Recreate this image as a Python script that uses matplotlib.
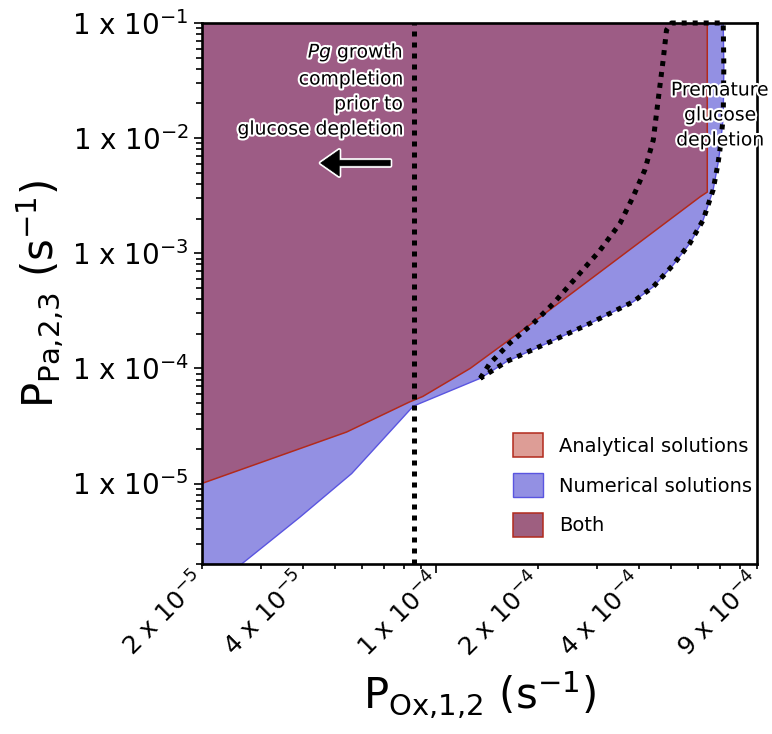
import matplotlib
matplotlib.use('Agg')
import matplotlib.pyplot as plt
import matplotlib.patheffects as pe
from matplotlib.patches import Patch, FancyArrowPatch
from matplotlib.ticker import FixedLocator, NullFormatter

plt.rcParams.update({
    'font.family': 'DejaVu Sans',
    'mathtext.fontset': 'dejavusans',
})

# analytical solution boundary (region above it)
ana_x = [2.0e-5, 5.4e-5, 8.3e-5, 9.1e-5, 1.26e-4, 1.9e-4, 6.1e-4, 6.4e-4, 6.4e-4]
ana_y = [1.0e-5, 2.8e-5, 5.1e-5, 5.7e-5, 1.0e-4, 2.4e-4, 3.1e-3, 3.4e-3, 1e-1]

# numerical solution boundary (region above it)
num_x = [2.0e-5, 2.63e-5, 3.92e-5, 5.59e-5, 8.53e-5, 1.35e-4, 1.62e-4, 2.13e-4,
         2.80e-4, 3.85e-4, 4.42e-4, 5.06e-4, 5.68e-4, 6.22e-4, 6.66e-4, 6.89e-4,
         6.98e-4, 7.14e-4, 7.17e-4, 7.14e-4]
num_y = [2e-6, 2e-6, 5.1e-6, 1.22e-5, 4.7e-5, 8.2e-5, 1.15e-4, 1.65e-4,
         2.38e-4, 3.79e-4, 5.12e-4, 7.89e-4, 1.22e-3, 1.94e-3, 3.54e-3, 6.04e-3,
         7.88e-3, 1.53e-2, 4.17e-2, 1e-1]

# left edge of the premature glucose depletion zone
dep_x = [1.35e-4, 1.44e-4, 1.65e-4, 1.94e-4, 2.23e-4, 2.61e-4, 3.06e-4, 3.52e-4,
         3.85e-4, 4.17e-4, 4.42e-4, 4.57e-4, 4.73e-4, 4.84e-4, 5.01e-4]
dep_y = [8.2e-5, 1.10e-4, 1.65e-4, 2.46e-4, 3.67e-4, 6.2e-4, 1.05e-3, 1.82e-3,
         3.10e-3, 5.28e-3, 9.63e-3, 2.14e-2, 4.77e-2, 8.69e-2, 1e-1]

growth_x = 8.6e-5

x_ticks = [2e-5, 4e-5, 1e-4, 2e-4, 4e-4, 9e-4]
x_ticklabels = ['2 x 10$^{-5}$', '4 x 10$^{-5}$', '1 x 10$^{-4}$',
                '2 x 10$^{-4}$', '4 x 10$^{-4}$', '9 x 10$^{-4}$']
y_ticks = [1e-5, 1e-4, 1e-3, 1e-2, 1e-1]
y_ticklabels = ['1 x 10$^{-5}$', '1 x 10$^{-4}$', '1 x 10$^{-3}$',
                '1 x 10$^{-2}$', '1 x 10$^{-1}$']

XMIN, XMAX = 2e-5, 9e-4
YMIN, YMAX = 2e-6, 1e-1

BLUE_FACE = '#9390e3'
BLUE_EDGE = '#5a55e0'
RED_FACE = (0.68, 0.07, 0.0, 0.41)
RED_EDGE = '#b22a1c'

fig = plt.figure(figsize=(7.72, 7.34), dpi=100)
ax = fig.add_axes([201.7 / 772, 1 - 564 / 734, 555.3 / 772, 541 / 734])
ax.set_xscale('log')
ax.set_yscale('log')

# numerical region: boundary then up to the top-left corner
bx = num_x + [XMIN, XMIN]
by = num_y + [YMAX, YMIN]
ax.fill(bx, by, facecolor=BLUE_FACE, edgecolor=BLUE_EDGE, lw=1.0, zorder=1)

# analytical region drawn translucent on top, so overlap reads as "both"
rx = ana_x + [XMIN]
ry = ana_y + [YMAX]
ax.fill(rx, ry, facecolor=RED_FACE, edgecolor=RED_EDGE, lw=1.1, zorder=2)

dot = dict(color='black', lw=3.6, linestyle=(0, (1, 1.2)),
           dash_capstyle='butt', clip_on=False, zorder=4)
ax.plot([growth_x, growth_x], [YMIN, YMAX], **dot)

i0 = num_x.index(dep_x[0])
loop_x = dep_x + num_x[i0:][::-1]
loop_y = dep_y + num_y[i0:][::-1]
ax.plot(loop_x, loop_y, **dot)

ax.set_xlim(XMIN, XMAX)
ax.set_ylim(YMIN, YMAX)

# ticks
ax.xaxis.set_major_locator(FixedLocator(x_ticks))
ax.xaxis.set_minor_locator(FixedLocator(
    [3e-5, 5e-5, 6e-5, 7e-5, 8e-5, 9e-5, 3e-4, 5e-4, 6e-4, 7e-4, 8e-4]))
ax.xaxis.set_minor_formatter(NullFormatter())
ax.set_xticklabels(x_ticklabels, rotation=45, ha='right', va='center',
                   rotation_mode='anchor', fontsize=18)

ax.yaxis.set_major_locator(FixedLocator(y_ticks))
ax.yaxis.set_minor_locator(FixedLocator(
    [m * 10.0 ** e for e in range(-6, -1) for m in range(2, 10)]))
ax.yaxis.set_minor_formatter(NullFormatter())
ax.set_yticklabels(y_ticklabels, fontsize=20)

ax.tick_params(which='both', direction='out', width=1.2, color='black')
ax.tick_params(axis='y', which='major', length=5.5, pad=4)
ax.tick_params(axis='y', which='minor', length=4)
ax.tick_params(axis='x', which='both', length=3.5, pad=6)
ax.xaxis.get_major_ticks()[2].tick1line.set_markersize(6.5)

for s in ax.spines.values():
    s.set_linewidth(1.9)
    s.set_zorder(5)

ax.set_xlabel(r'$\mathregular{P_{Ox{,}1{,}2}\ (s^{-1})}$', fontsize=30)
ax.set_ylabel(r'$\mathregular{P_{Pa{,}2{,}3}\ (s^{-1})}$', fontsize=30)
ax.xaxis.set_label_coords(0.5, -0.195)
ax.yaxis.set_label_coords(-0.245, 0.5)

halo = [pe.withStroke(linewidth=3, foreground='white')]
ax.text(0.3625, 0.877, '$\\it{Pg}$ growth\ncompletion\nprior to\nglucose depletion',
        transform=ax.transAxes, ha='right', va='center', fontsize=13.5,
        linespacing=1.4, path_effects=halo, zorder=6)
ax.text(0.9334, 0.830, 'Premature\nglucose\ndepletion',
        transform=ax.transAxes, ha='center', va='center', fontsize=13.5,
        linespacing=1.4, path_effects=halo, zorder=6)

arrow = FancyArrowPatch((0.3445, 0.7412), (0.2094, 0.7412), transform=ax.transAxes,
                        arrowstyle='simple,head_length=1.0,head_width=1.4,tail_width=0.3',
                        mutation_scale=13.3, facecolor='black', edgecolor='black',
                        lw=0.5, zorder=6)
arrow.set_path_effects([pe.withStroke(linewidth=3, foreground='white')])
ax.add_patch(arrow)

handles = [
    Patch(facecolor=RED_FACE, edgecolor=RED_EDGE, lw=1.1, label='Analytical solutions'),
    Patch(facecolor=BLUE_FACE, edgecolor=BLUE_EDGE, lw=1.0, label='Numerical solutions'),
    Patch(facecolor='#9e5f80', edgecolor=RED_EDGE, lw=1.1, label='Both'),
]
ax.legend(handles=handles, loc='upper left', bbox_to_anchor=(0.5606, 0.2421),
          frameon=False, fontsize=14, borderpad=0, borderaxespad=0,
          handlelength=1.55, handleheight=1.55, handletextpad=0.8,
          labelspacing=0.8)

fig.savefig('out.png', dpi=100)
